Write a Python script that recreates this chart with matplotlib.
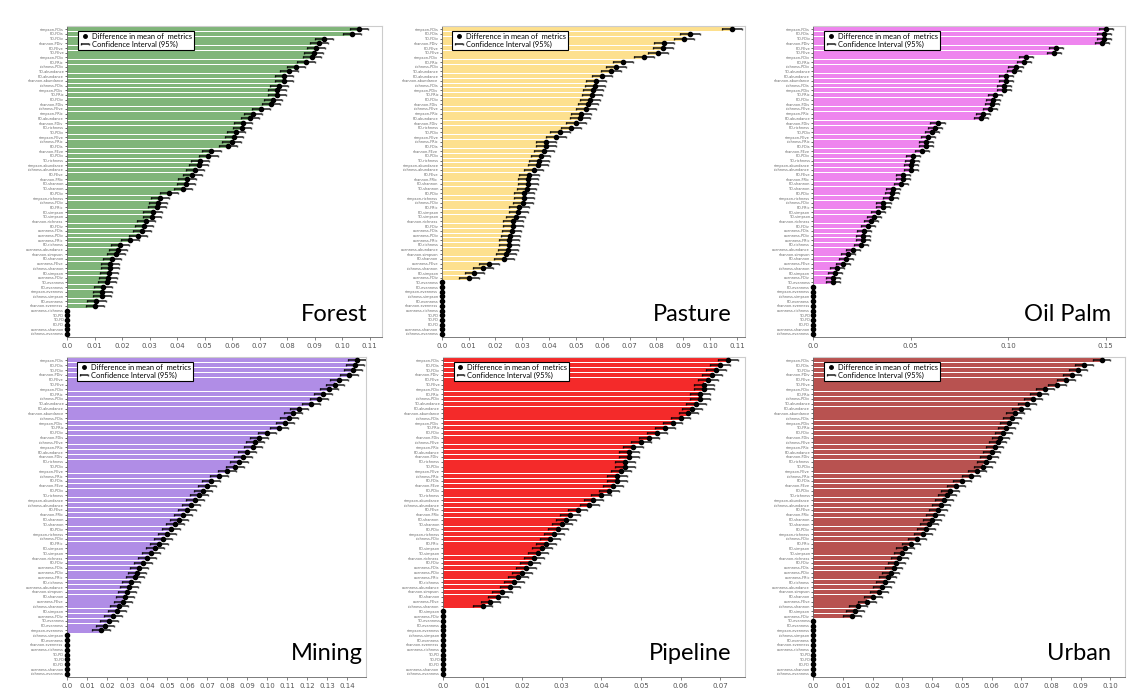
import numpy as np
import matplotlib
matplotlib.use("Agg")
import matplotlib.pyplot as plt
from matplotlib.lines import Line2D
from matplotlib.ticker import FuncFormatter, MultipleLocator

# metric-pair names on the y axis (too small to read in the source, kept generic)
metric_labels = [
    "simpson-FDis", "PD-FDis", "TD-FDiv", "shannon-PDiv", "PD-FEve", "TD-FEve",
    "simpson-FDiv", "PD-FRic", "richness-PDiv", "TD-abundance", "PD-abundance",
    "shannon-abundance", "richness-FDis", "simpson-PDiv", "TD-FRic", "PD-FDiv",
    "shannon-FDis", "richness-FEve", "simpson-FRic", "FD-abundance", "shannon-FDiv",
    "PD-richness", "TD-PDiv", "simpson-FEve", "richness-FRic", "FD-FDis",
    "shannon-FEve", "PD-PDiv", "TD-richness", "simpson-abundance",
    "richness-abundance", "FD-FEve", "shannon-FRic", "PD-shannon", "TD-shannon",
    "FD-PDiv", "simpson-richness", "richness-FDiv", "FD-FRic", "PD-simpson",
    "TD-simpson", "shannon-richness", "FD-FDiv", "evenness-FDis", "evenness-PDiv",
    "evenness-FRic", "FD-richness", "evenness-abundance", "shannon-simpson",
    "FD-shannon", "evenness-FEve", "richness-shannon", "FD-simpson",
    "evenness-FDiv", "TD-evenness", "PD-evenness", "simpson-evenness",
    "richness-simpson", "FD-evenness", "shannon-evenness", "evenness-richness",
    "TD-PD", "TD-FD", "PD-FD", "evenness-shannon", "richness-evenness",
]

forest = [
    0.1062, 0.1035, 0.0934, 0.0917, 0.0905, 0.0896, 0.0890, 0.0869, 0.0833, 0.0806,
    0.0789, 0.0789, 0.0769, 0.0763, 0.0763, 0.0749, 0.0740, 0.0706, 0.0676, 0.0664,
    0.0641, 0.0635, 0.0614, 0.0607, 0.0598, 0.0585, 0.0525, 0.0514, 0.0483, 0.0478,
    0.0464, 0.0456, 0.0437, 0.0432, 0.0422, 0.0370, 0.0337, 0.0330, 0.0328, 0.0311,
    0.0308, 0.0286, 0.0279, 0.0272, 0.0257, 0.0228, 0.0193, 0.0186, 0.0177, 0.0165,
    0.0157, 0.0157, 0.0153, 0.0149, 0.0144, 0.0130, 0.0129, 0.0127, 0.0107, 0.0101,
    0, 0, 0, 0, 0, 0,
]

pasture = [
    0.1081, 0.0925, 0.0904, 0.0829, 0.0825, 0.0805, 0.0752, 0.0675, 0.0650, 0.0630,
    0.0596, 0.0576, 0.0570, 0.0563, 0.0559, 0.0552, 0.0544, 0.0537, 0.0520, 0.0514,
    0.0501, 0.0482, 0.0442, 0.0425, 0.0390, 0.0388, 0.0381, 0.0368, 0.0363, 0.0360,
    0.0342, 0.0325, 0.0323, 0.0320, 0.0316, 0.0307, 0.0306, 0.0303, 0.0287, 0.0286,
    0.0275, 0.0267, 0.0267, 0.0260, 0.0256, 0.0250, 0.0250, 0.0246, 0.0238, 0.0232,
    0.0175, 0.0154, 0.0122, 0.0101,
    0, 0, 0, 0, 0, 0, 0, 0, 0, 0, 0, 0,
]

oil_palm = [
    0.1503, 0.1492, 0.1490, 0.1480, 0.1244, 0.1232, 0.1093, 0.1080, 0.1037, 0.1030,
    0.0989, 0.0989, 0.0979, 0.0979, 0.0931, 0.0921, 0.0914, 0.0906, 0.0871, 0.0858,
    0.0637, 0.0624, 0.0610, 0.0588, 0.0576, 0.0576, 0.0559, 0.0513, 0.0507, 0.0501,
    0.0499, 0.0461, 0.0459, 0.0448, 0.0410, 0.0405, 0.0396, 0.0360, 0.0357, 0.0330,
    0.0313, 0.0294, 0.0282, 0.0258, 0.0255, 0.0255, 0.0243, 0.0205, 0.0179, 0.0166,
    0.0150, 0.0123, 0.0111, 0.0103, 0.0103,
    0, 0, 0, 0, 0, 0, 0, 0, 0, 0, 0,
]

mining = [
    0.145, 0.144, 0.143, 0.141, 0.136, 0.134, 0.131, 0.128, 0.126, 0.122,
    0.116, 0.113, 0.111, 0.109, 0.106, 0.100, 0.096, 0.094, 0.093, 0.090,
    0.088, 0.086, 0.084, 0.080, 0.076, 0.072, 0.070, 0.068, 0.066, 0.064,
    0.062, 0.060, 0.058, 0.056, 0.054, 0.052, 0.050, 0.048, 0.046, 0.044,
    0.042, 0.040, 0.038, 0.036, 0.035, 0.034, 0.032, 0.031, 0.030, 0.029,
    0.028, 0.026, 0.025, 0.023, 0.021, 0.019, 0.017,
    0, 0, 0, 0, 0, 0, 0, 0, 0,
]

pipeline = [
    0.072, 0.070, 0.069, 0.068, 0.067, 0.066, 0.066, 0.065, 0.065, 0.064,
    0.063, 0.062, 0.060, 0.058, 0.056, 0.054, 0.052, 0.050, 0.048, 0.047,
    0.047, 0.046, 0.046, 0.045, 0.044, 0.044, 0.043, 0.042, 0.040, 0.038,
    0.037, 0.034, 0.032, 0.031, 0.030, 0.029, 0.028, 0.027, 0.026, 0.025,
    0.024, 0.023, 0.022, 0.021, 0.020, 0.019, 0.018, 0.017, 0.015, 0.014,
    0.012, 0.010,
    0, 0, 0, 0, 0, 0, 0, 0, 0, 0, 0, 0, 0, 0,
]

urban = [
    0.097, 0.091, 0.089, 0.087, 0.085, 0.082, 0.078, 0.076, 0.074, 0.072,
    0.070, 0.068, 0.067, 0.066, 0.065, 0.064, 0.063, 0.062, 0.061, 0.060,
    0.059, 0.058, 0.057, 0.055, 0.053, 0.050, 0.048, 0.046, 0.045, 0.044,
    0.043, 0.042, 0.041, 0.040, 0.039, 0.038, 0.037, 0.035, 0.033, 0.031,
    0.030, 0.029, 0.028, 0.027, 0.026, 0.025, 0.024, 0.023, 0.022, 0.020,
    0.018, 0.015, 0.014, 0.013,
    0, 0, 0, 0, 0, 0, 0, 0, 0, 0, 0, 0,
]

# approximate 95% CI half-width per land use
ci_half = {"Forest": 0.0033, "Pasture": 0.0037, "Oil Palm": 0.0036,
           "Mining": 0.0045, "Pipeline": 0.0025, "Urban": 0.0030}

panels = [
    # name, values, colour, axes rect (fig fraction), xmax, tick step, title x
    ("Forest", forest, "#80b57a", [0.0594, 0.5109, 0.2793, 0.4514], 0.1145, 0.01, 0.955),
    ("Pasture", pasture, "#fde08e", [0.3916, 0.5109, 0.2689, 0.4514], 0.1130, 0.01, 0.955),
    ("Oil Palm", oil_palm, "#ee85ee", [0.7210, 0.5109, 0.2766, 0.4514], 0.1600, 0.05, 0.955),
    ("Mining", mining, "#b08de6", [0.0594, 0.0174, 0.2650, 0.4644], 0.1495, 0.01, 0.99),
    ("Pipeline", pipeline, "#f42a2a", [0.3927, 0.0174, 0.2678, 0.4644], 0.0763, 0.01, 0.955),
    ("Urban", urban, "#b85250", [0.7210, 0.0174, 0.2766, 0.4644], 0.1050, 0.01, 0.955),
]


def tick_fmt(v, pos):
    return "0.0" if abs(v) < 1e-9 else "{:.2f}".format(v)


def main():
    fig = plt.figure(figsize=(11.28, 6.89), dpi=100)

    for name, vals, colour, rect, xmax, step, title_x in panels:
        ax = fig.add_axes(rect)
        vals = np.array(vals)
        y = np.arange(len(vals))
        labels = metric_labels[:len(vals)]

        ax.barh(y, vals, height=0.85, color=colour, zorder=1)

        has_bar = vals > 0
        err = np.where(has_bar, ci_half[name], 0)
        ci = ax.errorbar(vals[has_bar], y[has_bar], xerr=err[has_bar], fmt="none",
                         ecolor="black", elinewidth=1.3, capsize=1.0,
                         alpha=0.75, zorder=2)
        ax.plot(vals, y, "o", color="black", ms=3, zorder=3, clip_on=False)

        ax.set_ylim(len(vals) - 0.35, -0.7)
        ax.set_xlim(0, xmax)
        ax.set_yticks(y)
        ax.set_yticklabels(labels, fontsize=2.5, color="#666666")
        ax.tick_params(axis="y", length=1.5, width=0.4, pad=1)
        ax.xaxis.set_major_locator(MultipleLocator(step))
        ax.xaxis.set_major_formatter(FuncFormatter(tick_fmt))
        ax.tick_params(axis="x", labelsize=5, colors="#555555", length=2,
                       width=0.5, pad=2)

        for side in ("top", "right"):
            ax.spines[side].set_color("#cccccc")
            ax.spines[side].set_linewidth(0.8)
        for side in ("left", "bottom"):
            ax.spines[side].set_color("#666666")
            ax.spines[side].set_linewidth(0.6)

        dot = Line2D([], [], marker="o", color="black", ls="none", ms=2.5)
        leg = ax.legend([dot, ci],
                        ["Difference in mean of  metrics", "Confidence Interval (95%)"],
                        loc="upper left", bbox_to_anchor=(0.035, 0.985),
                        prop={"family": "Lato", "size": 5.4}, frameon=True,
                        fancybox=False, handlelength=1.2, handletextpad=0.3,
                        borderpad=0.3, labelspacing=0.1, borderaxespad=0)
        leg.get_frame().set_edgecolor("black")
        leg.get_frame().set_linewidth(0.8)
        leg.get_frame().set_alpha(1)

        ax.text(title_x, 0.04, name, transform=ax.transAxes, ha="right",
                va="bottom", fontsize=17, family="Lato", color="black")

    fig.savefig("out.png", dpi=100)


if __name__ == "__main__":
    main()
